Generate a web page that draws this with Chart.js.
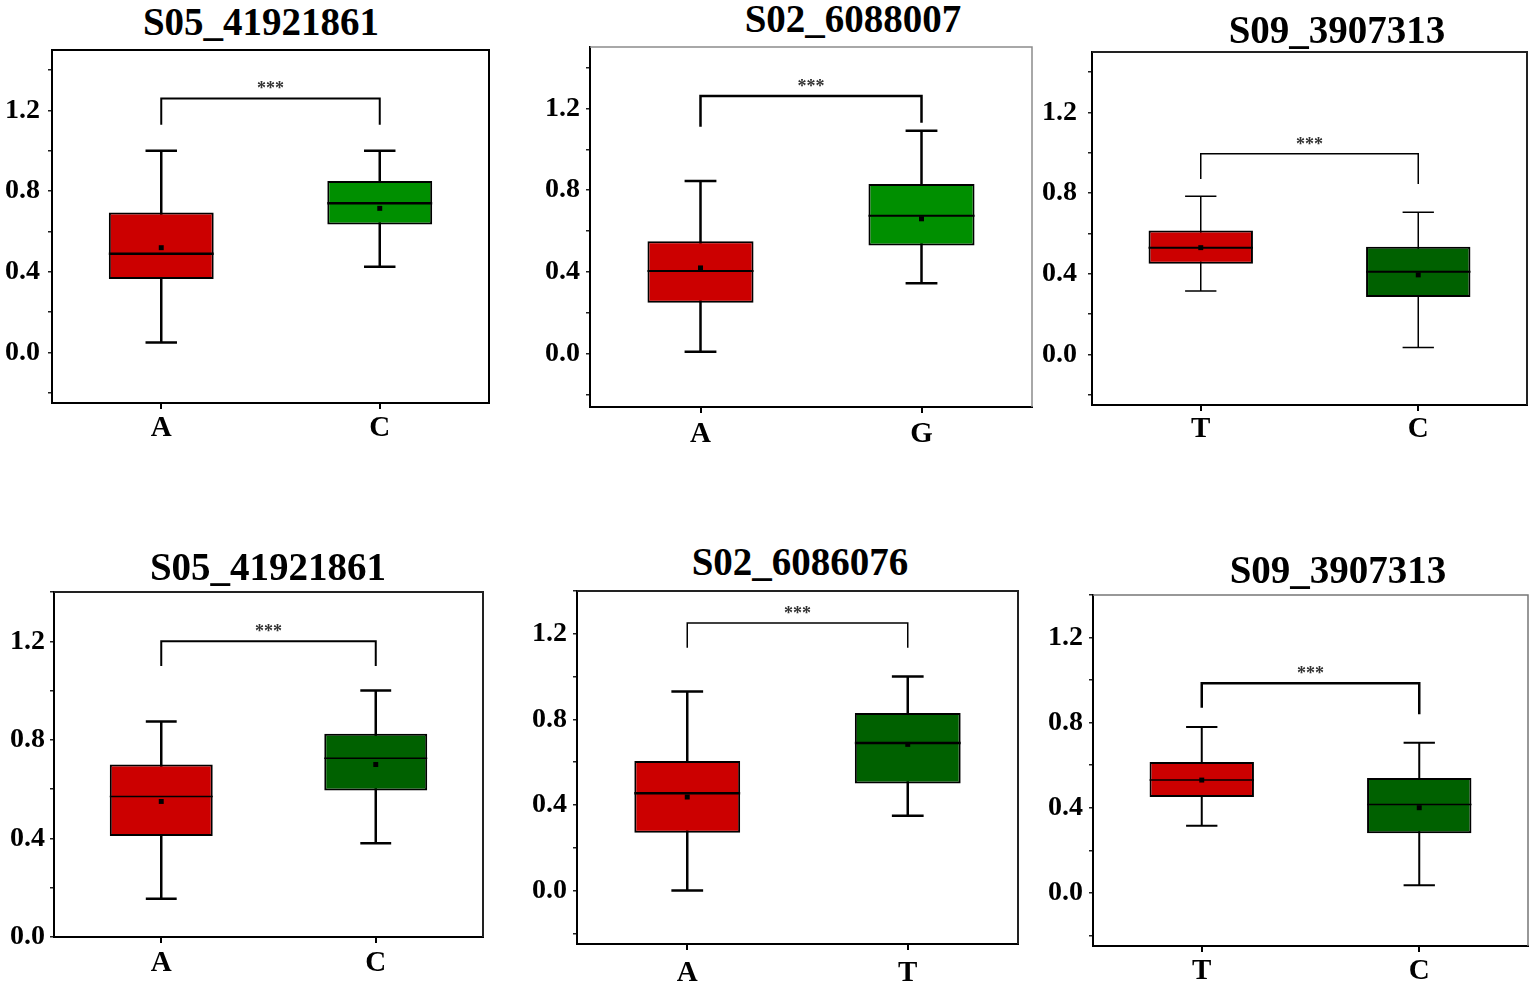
<!DOCTYPE html>
<html>
<head>
<meta charset="utf-8">
<title>Allele box plots</title>
<script src="https://cdn.jsdelivr.net/npm/chart.js@4.4.1/dist/chart.umd.min.js"></script>
<style>
    html, body { margin: 0; padding: 0; background: #fff; }
    #page { position: relative; width: 1535px; height: 990px; overflow: hidden; }
    #page canvas { position: absolute; }
    .panel-title {
        position: absolute;
        font: bold 39px "Liberation Serif", "Times New Roman", serif;
        line-height: 39px;
        color: #000;
        white-space: nowrap;
        transform: translateX(-50%);
    }
</style>
</head>
<body>
<div id="page"></div>
<script>
// ---- data (one entry per panel, left->right, top->bottom) ----
const panelTitles = ['S05_41921861', 'S02_6088007', 'S09_3907313', 'S05_41921861', 'S02_6086076', 'S09_3907313'];
const alleles = [['A', 'C'], ['A', 'G'], ['T', 'C'], ['A', 'C'], ['A', 'T'], ['T', 'C']];

const whiskerLow  = [[0.05, 0.425], [0.01, 0.345], [0.315, 0.035], [0.155, 0.38], [0.0, 0.35], [0.315, 0.035]];
const quartile1   = [[0.365, 0.635], [0.25, 0.53], [0.45, 0.285], [0.41, 0.595], [0.27, 0.50], [0.45, 0.28]];
const medians     = [[0.49, 0.74], [0.405, 0.675], [0.53, 0.41], [0.57, 0.725], [0.455, 0.69], [0.53, 0.415]];
const means       = [[0.52, 0.715], [0.42, 0.66], [0.53, 0.395], [0.55, 0.70], [0.437, 0.683], [0.53, 0.40]];
const quartile3   = [[0.695, 0.85], [0.55, 0.83], [0.615, 0.535], [0.70, 0.825], [0.605, 0.83], [0.615, 0.54]];
const whiskerHigh = [[1.0, 1.0], [0.845, 1.09], [0.785, 0.705], [0.875, 1.0], [0.93, 1.0], [0.78, 0.705]];

// significance brackets
const bracketLevel = [1.26, 1.26, 0.995, 1.2, 1.25, 0.985];
const bracketEnds  = [[1.13, 1.13], [1.11, 1.13], [0.87, 0.845], [1.10, 1.10], [1.135, 1.135], [0.87, 0.84]];
const significance = ['***', '***', '***', '***', '***', '***'];

// y axes
const yAxisMin = [-0.25, -0.26, -0.25, 0, -0.25, -0.25];
const yAxisMax = [1.5, 1.5, 1.5, 1.4, 1.4, 1.4];
const yTickLabels = ['0.0', '0.4', '0.8', '1.2'];

// ---- layout / styles ----
const plotRects = [            // left, top, right, bottom of each plot frame (px)
    [52, 50, 489, 403],
    [590, 47, 1032, 407],
    [1092, 52, 1527, 405],
    [54, 592, 483, 937],
    [577, 591, 1018, 944],
    [1093, 595, 1528, 946]
];
const titleSpots = [[261, 35], [853, 32], [1337, 43], [268, 580], [800, 575], [1338, 583]]; // centre x, baseline y
const yLabelGap = [12, 10, 15, 9, 10, 10];
const xLabelGap = [8, 10, 7, 9, 12, 8];
const boxColors = [
    ['#cc0000', '#008f00'],
    ['#cc0000', '#008f00'],
    ['#cc0000', '#006100'],
    ['#cc0000', '#006100'],
    ['#cc0000', '#006100'],
    ['#cc0000', '#006100']
];
const whiskerWidth = [2.5, 2.5, 1.5, 2.5, 2.5, 2];
const medianWidth  = [2.5, 2, 2, 1.5, 2.5, 1.5];
const bracketWidth = [2, 2.5, 1.5, 2, 1.5, 2.5];
const frameColor   = ['#000', '#8c8c8c', '#222', '#222', '#222', '#777'];

const Y_AXIS_W = 52;
const X_AXIS_H = 52;
const PAD = 6;
const CAP_RATIO = 0.3;
const SERIF = '"Liberation Serif", "Times New Roman", serif';

// whiskers under the boxes, medians on top, then bracket + frame
const boxPlotExtras = {
    id: 'boxPlotExtras',
    beforeDatasetsDraw(chart, args, opts) {
        const { ctx, scales: { x, y } } = chart;
        const p = opts.panel;
        const bars = chart.getDatasetMeta(0).data;
        ctx.save();
        ctx.strokeStyle = '#000';
        ctx.lineWidth = whiskerWidth[p];
        bars.forEach((bar, i) => {
            const cx = x.getPixelForValue(i);
            const half = bar.width * CAP_RATIO / 2;
            const lo = y.getPixelForValue(whiskerLow[p][i]);
            const hi = y.getPixelForValue(whiskerHigh[p][i]);
            ctx.beginPath();
            ctx.moveTo(cx, hi); ctx.lineTo(cx, lo);
            ctx.moveTo(cx - half, hi); ctx.lineTo(cx + half, hi);
            ctx.moveTo(cx - half, lo); ctx.lineTo(cx + half, lo);
            ctx.stroke();
        });
        ctx.restore();
    },
    afterDatasetDraw(chart, args, opts) {
        if (args.index !== 0) return;
        const { ctx, scales: { y } } = chart;
        const p = opts.panel;
        ctx.save();
        ctx.strokeStyle = '#000';
        ctx.lineWidth = medianWidth[p];
        args.meta.data.forEach((bar, i) => {
            const my = y.getPixelForValue(medians[p][i]);
            ctx.beginPath();
            ctx.moveTo(bar.x - bar.width / 2, my);
            ctx.lineTo(bar.x + bar.width / 2, my);
            ctx.stroke();
        });
        ctx.restore();
    },
    afterDatasetsDraw(chart, args, opts) {
        const { ctx, chartArea: area, scales: { x, y } } = chart;
        const p = opts.panel;
        const x0 = x.getPixelForValue(0);
        const x1 = x.getPixelForValue(1);
        const top = y.getPixelForValue(bracketLevel[p]);
        ctx.save();
        ctx.strokeStyle = '#000';
        ctx.lineWidth = bracketWidth[p];
        ctx.beginPath();
        ctx.moveTo(x0, y.getPixelForValue(bracketEnds[p][0]));
        ctx.lineTo(x0, top);
        ctx.lineTo(x1, top);
        ctx.lineTo(x1, y.getPixelForValue(bracketEnds[p][1]));
        ctx.stroke();

        ctx.fillStyle = '#333';
        ctx.font = 'bold 18px ' + SERIF;
        ctx.textAlign = 'center';
        ctx.textBaseline = 'alphabetic';
        ctx.fillText(significance[p], (x0 + x1) / 2, top - 4);

        // top and right side of the frame
        ctx.strokeStyle = frameColor[p];
        ctx.lineWidth = p === 1 || p === 5 ? 1.5 : 2;
        ctx.beginPath();
        ctx.moveTo(area.left, area.top);
        ctx.lineTo(area.right, area.top);
        ctx.lineTo(area.right, area.bottom);
        ctx.stroke();
        ctx.restore();
    }
};

function makePanel(p) {
    const [L, T, R, B] = plotRects[p];
    const page = document.getElementById('page');

    const canvas = document.createElement('canvas');
    const w = Y_AXIS_W + (R - L) + PAD;
    const h = PAD + (B - T) + X_AXIS_H;
    canvas.width = w;
    canvas.height = h;
    canvas.style.left = (L - Y_AXIS_W) + 'px';
    canvas.style.top = (T - PAD) + 'px';
    canvas.style.width = w + 'px';
    canvas.style.height = h + 'px';
    page.appendChild(canvas);

    const title = document.createElement('div');
    title.className = 'panel-title';
    title.textContent = panelTitles[p];
    title.style.left = titleSpots[p][0] + 'px';
    title.style.top = (titleSpots[p][1] - 32.6) + 'px';
    page.appendChild(title);

    const boxes = alleles[p].map((_, i) => [quartile1[p][i], quartile3[p][i]]);

    new Chart(canvas, {
        type: 'bar',
        data: {
            labels: alleles[p],
            datasets: [{
                label: 'IQR',
                data: boxes,
                backgroundColor: boxColors[p],
                borderColor: '#000',
                borderWidth: 2,
                borderSkipped: false,
                barPercentage: 0.48,
                categoryPercentage: 1,
                order: 2
            }, {
                type: 'line',
                label: 'Mean',
                data: means[p],
                showLine: false,
                pointStyle: 'rect',
                pointRadius: 3.5,
                pointBackgroundColor: '#000',
                pointBorderColor: '#000',
                pointBorderWidth: 0,
                order: 1
            }]
        },
        options: {
            responsive: false,
            animation: false,
            devicePixelRatio: 1,
            layout: { padding: { top: PAD, right: PAD, left: 0, bottom: 0 } },
            plugins: {
                legend: { display: false },
                tooltip: { enabled: false },
                boxPlotExtras: { panel: p }
            },
            scales: {
                x: {
                    type: 'category',
                    offset: true,
                    border: { display: true, color: '#000', width: 2 },
                    grid: {
                        offset: false,
                        drawOnChartArea: false,
                        drawTicks: true,
                        tickLength: 6,
                        color: '#000',
                        lineWidth: 2
                    },
                    ticks: {
                        color: '#000',
                        padding: xLabelGap[p] - 6,
                        font: { family: SERIF, size: 29, weight: 'bold' }
                    },
                    afterFit(scale) {
                        scale.height = X_AXIS_H;
                        scale.paddingLeft = 0;
                        scale.paddingRight = 0;
                    }
                },
                y: {
                    min: yAxisMin[p],
                    max: yAxisMax[p],
                    border: { display: true, color: '#000', width: 2 },
                    grid: {
                        drawOnChartArea: false,
                        drawTicks: true,
                        tickLength: 4,
                        color: '#222',
                        lineWidth: 1.5
                    },
                    ticks: {
                        stepSize: 0.2,
                        includeBounds: false,
                        autoSkip: false,
                        color: '#000',
                        padding: yLabelGap[p] - 4,
                        font: { family: SERIF, size: 28, weight: 'bold' },
                        callback(value) {
                            const k = Math.round(value / 0.4);
                            if (Math.abs(value - k * 0.4) > 1e-6 || k < 0) return '';
                            return yTickLabels[k] ?? '';
                        }
                    },
                    afterFit(scale) {
                        scale.width = Y_AXIS_W;
                        scale.paddingTop = 0;
                        scale.paddingBottom = 0;
                    }
                }
            }
        },
        plugins: [boxPlotExtras]
    });
}

for (let p = 0; p < panelTitles.length; p++) {
    makePanel(p);
}
</script>
</body>
</html>
